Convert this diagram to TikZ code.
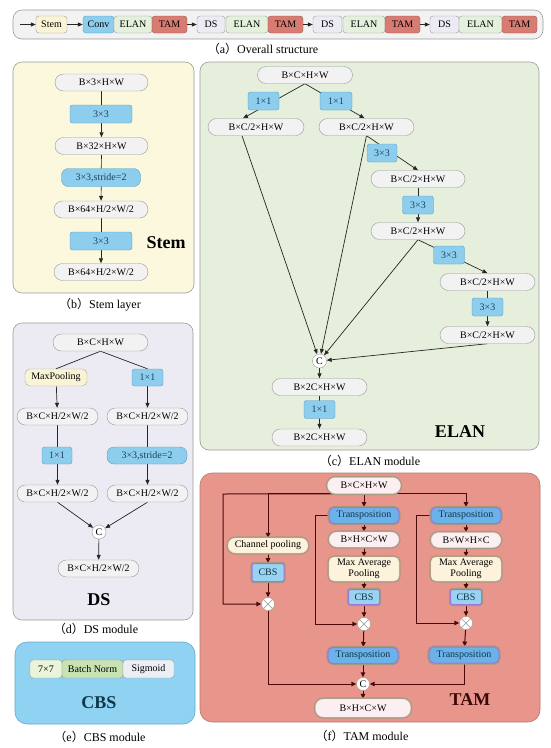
\documentclass[tikz,border=0pt]{standalone}
\usepackage{fontspec}
\setmainfont{Liberation Serif}
\newfontfamily\cjk{Noto Sans CJK SC}
\usetikzlibrary{arrows.meta,calc}
\pgfdeclarelayer{bg}
\pgfdeclarelayer{edges}
\pgfsetlayers{bg,edges,main}
\definecolor{boxgray}{HTML}{F2F2F2}
\definecolor{bordgray}{HTML}{9A9A9A}
\definecolor{convblue}{HTML}{8DCEEE}
\definecolor{convbord}{HTML}{5A9EBE}
\definecolor{convtext}{HTML}{1F3F5A}
\definecolor{yel}{HTML}{FAF4D6}
\definecolor{elangreen}{HTML}{E5F0DC}
\definecolor{tamred}{HTML}{D87B72}
\definecolor{dslav}{HTML}{ECEBF3}
\definecolor{stempanel}{HTML}{FCF8DD}
\definecolor{elanpanel}{HTML}{E6EFDC}
\definecolor{dspanel}{HTML}{ECEBF3}
\definecolor{cbspanel}{HTML}{8FD2F2}
\definecolor{cbsbord}{HTML}{6AAACC}
\definecolor{tampanel}{HTML}{E8958C}
\definecolor{tambord}{HTML}{B07A70}
\definecolor{thalo}{HTML}{A89A80}
\definecolor{tblue}{HTML}{6CB2EA}
\definecolor{tlblue}{HTML}{9AD2F2}
\definecolor{tpurple}{HTML}{9A78D6}
\definecolor{ttext}{HTML}{0E3848}
\definecolor{tline}{HTML}{4A0A0A}
\definecolor{tpink}{HTML}{FBEFF1}
\definecolor{tcream}{HTML}{FDF3DC}
\definecolor{bngreen}{HTML}{C9E2B4}
\definecolor{sevgreen}{HTML}{EAF4DA}
\definecolor{sigm}{HTML}{EBEFF3}
\begin{document}
\begin{tikzpicture}[x=1pt,y=-1pt,
  base/.style={draw, inner sep=0pt, align=center, font=\fontsize{10}{11}\selectfont},
  gbox/.style={base, fill=boxgray, draw=bordgray, rounded corners=8.5pt, minimum height=17pt},
  conv/.style={base, fill=convblue, draw=convbord, rounded corners=2.5pt, minimum height=18pt, text=convtext},
  convpill/.style={conv, rounded corners=7pt},
  barbox/.style={base, draw=bordgray, rounded corners=3pt, minimum height=17pt},
  panel/.style={draw=bordgray, line width=0.6pt, rounded corners=9pt},
  arr/.style={-{Triangle[length=5pt,width=4pt]}, line width=0.7pt, draw=black!85},
  pl/.style={line width=0.7pt, draw=black!85},
  ccirc/.style={circle, draw=bordgray, fill=white, inner sep=0pt, minimum size=14pt, font=\fontsize{10}{11}\selectfont},
  title/.style={font=\bfseries\fontsize{18}{20}\selectfont},
  capt/.style={font=\fontsize{12}{14}\selectfont},
  halo/.style={preaction={draw=thalo, line width=3.2pt}},
  tpill/.style={base, halo, fill=tpink, draw=tpink!80!gray, rounded corners=8pt, minimum height=16pt},
  tpose/.style={base, halo, fill=tblue, draw=tpurple, line width=1pt, rounded corners=5pt, minimum width=70pt, minimum height=16pt, text=ttext},
  tcbs/.style={base, halo, fill=tlblue, draw=tpurple, line width=1pt, rounded corners=2pt, text=ttext},
  tcr/.style={base, halo, fill=tcream, draw=tcream!80!gray, rounded corners=5pt},
  tmul/.style={circle, draw=thalo, fill=white, inner sep=0pt, minimum size=13pt,
    path picture={\draw[black!35, line width=0.7pt] (path picture bounding box.north west) -- (path picture bounding box.south east) (path picture bounding box.north east) -- (path picture bounding box.south west);}},
  tcc/.style={circle, draw=thalo, fill=white, inner sep=0pt, minimum size=13pt, font=\fontsize{10}{11}\selectfont},
  tarr/.style={-{Triangle[length=5pt,width=4.5pt]}, line width=1pt, draw=tline}
]
\useasboundingbox (0,0) rectangle (550,748);

% ---------- panels ----------
\begin{pgfonlayer}{bg}
\draw[panel, fill=boxgray] (13,10) rectangle (543,39);
\draw[panel, fill=stempanel] (13,62) rectangle (194,293);
\draw[panel, fill=elanpanel] (200,62) rectangle (539,450);
\draw[panel, fill=dspanel] (13,323) rectangle (193,620);
\draw[panel, fill=cbspanel, draw=cbsbord, rounded corners=12pt] (15,642) rectangle (195,724);
\draw[panel, fill=tampanel, draw=tambord, rounded corners=12pt] (200,473) rectangle (540,722);
\end{pgfonlayer}

% ---------- (a) overall ----------
\coordinate (a0) at (20,24.5);
\node[barbox, fill=yel, minimum width=31pt] (bstem) at (51.5,24.5) {Stem};
\node[barbox, fill=convblue, draw=convbord, minimum width=31pt] (bconv) at (98.5,24.5) {Conv};
\node[barbox, fill=elangreen, minimum width=38pt] (be1) at (133,24.5) {ELAN};
\node[barbox, fill=tamred, draw=tamred!70!black, minimum width=35pt] (bt1) at (169.5,24.5) {TAM};
\node[barbox, fill=dslav, minimum width=28pt] (bd2) at (211,24.5) {DS};
\node[barbox, fill=elangreen, minimum width=42pt] (be2) at (247,24.5) {ELAN};
\node[barbox, fill=tamred, draw=tamred!70!black, minimum width=35pt] (bt2) at (285.5,24.5) {TAM};
\node[barbox, fill=dslav, minimum width=29pt] (bd3) at (327.5,24.5) {DS};
\node[barbox, fill=elangreen, minimum width=42pt] (be3) at (364,24.5) {ELAN};
\node[barbox, fill=tamred, draw=tamred!70!black, minimum width=35pt] (bt3) at (402.5,24.5) {TAM};
\node[barbox, fill=dslav, minimum width=29pt] (bd4) at (444.5,24.5) {DS};
\node[barbox, fill=elangreen, minimum width=43pt] (be4) at (480.5,24.5) {ELAN};
\node[barbox, fill=tamred, draw=tamred!70!black, minimum width=35pt] (bt4) at (519.5,24.5) {TAM};
\draw[arr] (a0) -- (bstem.west);
\draw[arr] (bstem.east) -- (bconv.west);
\draw[arr] (bt1.east) -- (bd2.west);
\draw[arr] (bt2.east) -- (bd3.west);
\draw[arr] (bt3.east) -- (bd4.west);
\node[capt] (capa) at (263,49) {{\cjk （}a{\cjk ）}Overall structure};

% ---------- (b) stem ----------
\node[gbox, minimum width=93pt] (s1) at (101.5,82.5) {B×3×H×W};
\node[conv, minimum width=62pt] (s2) at (101,114) {3×3};
\node[gbox, minimum width=93pt] (s3) at (101.5,146) {B×32×H×W};
\node[convpill, minimum width=79pt] (s4) at (101,177.5) {3×3,stride=2};
\node[gbox, minimum width=94pt] (s5) at (101,209.5) {B×64×H/2×W/2};
\node[conv, minimum width=62pt] (s6) at (101,241) {3×3};
\node[gbox, minimum width=94pt] (s7) at (101,272) {B×64×H/2×W/2};
\node[title] (stemt) at (166,243) {Stem};
\node[capt] (capb) at (100,305) {{\cjk （}b{\cjk ）}Stem layer};

% ---------- (c) ELAN ----------
\node[gbox, minimum width=95pt] (e0) at (305,75) {B×C×H×W};
\node[conv, minimum width=31pt] (e11) at (263.5,101) {1×1};
\node[conv, minimum width=32pt] (e12) at (336,101) {1×1};
\node[gbox, minimum width=96pt] (eL) at (256,127) {B×C/2×H×W};
\node[gbox, minimum width=95pt] (eR) at (366.5,127) {B×C/2×H×W};
\node[conv, minimum width=30pt] (c1) at (382,153) {3×3};
\node[gbox, minimum width=94pt] (e3) at (418,179) {B×C/2×H×W};
\node[conv, minimum width=31pt] (c2) at (418,205) {3×3};
\node[gbox, minimum width=94pt] (e4) at (418,231) {B×C/2×H×W};
\node[conv, minimum width=31pt] (c3) at (449,255) {3×3};
\node[gbox, minimum width=95pt] (e5) at (487.5,282) {B×C/2×H×W};
\node[conv, minimum width=31pt] (c4) at (487.5,307) {3×3};
\node[gbox, minimum width=95pt] (e6) at (487.5,335) {B×C/2×H×W};
\node[ccirc] (ec) at (319.5,361) {C};
\node[gbox, minimum width=95pt] (e7) at (319.5,387) {B×2C×H×W};
\node[conv, minimum width=31pt] (c5) at (319.5,409.5) {1×1};
\node[gbox, minimum width=95pt] (e8) at (319.5,437.5) {B×2C×H×W};
\node[title] (elant) at (460,432) {ELAN};
\node[capt] (capc) at (370,461) {{\cjk （}c{\cjk ）}ELAN module};

% ---------- (d) DS ----------
\node[gbox, minimum width=95pt] (d0) at (100.5,342.5) {B×C×H×W};
\node[base, fill=yel, draw=bordgray!80!yellow, rounded corners=5pt, minimum width=62pt, minimum height=17pt] (dmp) at (56,377.5) {MaxPooling};
\node[conv, minimum width=31pt, minimum height=17pt] (d11) at (147.5,377.5) {1×1};
\node[gbox, minimum width=81pt] (dL1) at (57.5,416.5) {B×C×H/2×W/2};
\node[gbox, minimum width=81pt] (dR1) at (147.5,416.5) {B×C×H/2×W/2};
\node[conv, minimum width=30pt, minimum height=17pt] (dc1) at (57,455.5) {1×1};
\node[convpill, minimum width=80pt, minimum height=17pt] (dc2) at (147,455.5) {3×3,stride=2};
\node[gbox, minimum width=81pt] (dL2) at (57.5,493.5) {B×C×H/2×W/2};
\node[gbox, minimum width=81pt] (dR2) at (147.5,493.5) {B×C×H/2×W/2};
\node[ccirc] (dc) at (99,532) {C};
\node[gbox, minimum width=81pt] (dout) at (98.5,568.5) {B×C×H/2×W/2};
\node[title] (dst) at (99,600) {DS};
\node[capt] (capd) at (96,629) {{\cjk （}d{\cjk ）}DS module};

% ---------- (e) CBS ----------
\node[barbox, fill=sevgreen, minimum width=32pt, minimum height=18pt] (k7) at (46,669) {7×7};
\node[barbox, fill=bngreen, minimum width=61pt, minimum height=18pt] (kbn) at (92.5,669) {Batch Norm};
\node[barbox, fill=sigm, minimum width=51pt, minimum height=18pt] (ksig) at (148.5,669) {Sigmoid};
\node[title, text=ttext] (cbst) at (99,703) {CBS};
\node[capt] (cape) at (100,737) {{\cjk （}e{\cjk ）}CBS module};

% ---------- (f) TAM ----------
\node[tpill, minimum width=73pt] (tin) at (364,485.5) {B×C×H×W};
\node[tpose] (tp1) at (364,515.5) {Transposition};
\node[tpill, minimum width=70pt, minimum height=15pt] (bh1) at (364,539.5) {B×H×C×W};
\node[tcr, minimum width=70pt, minimum height=24pt, font=\fontsize{10}{10.5}\selectfont] (mp1) at (364,569) {Max Average\\Pooling};
\node[tcbs, minimum width=31pt, minimum height=15pt] (cb1) at (364,597) {CBS};
\node[tmul] (m1) at (364,624) {};
\node[tpose] (tq1) at (363,655.5) {Transposition};
\node[tcc] (tc) at (363,684) {C};
\node[tpill, minimum width=95pt, minimum height=18pt] (tout) at (363,708) {B×H×C×W};

\node[tpose] (tp2) at (466,515.5) {Transposition};
\node[tpill, minimum width=70pt, minimum height=15pt] (bh2) at (466,540) {B×W×H×C};
\node[tcr, minimum width=70pt, minimum height=24pt, font=\fontsize{10}{10.5}\selectfont] (mp2) at (466,569) {Max Average\\Pooling};
\node[tcbs, minimum width=31pt, minimum height=15pt] (cb2) at (466,597) {CBS};
\node[tmul] (m2) at (466,623) {};
\node[tpose] (tq2) at (464,655) {Transposition};

\node[tcr, rounded corners=7.5pt, minimum width=80pt, minimum height=15pt] (cp) at (268,545.5) {Channel pooling};
\node[tcbs, minimum width=32pt, minimum height=18pt] (cb0) at (268,572.5) {CBS};
\node[tmul] (m0) at (268,604) {};
\coordinate (jl) at (223,494);
\coordinate (k1) at (315,515.5);
\coordinate (k2) at (416,515.5);
\node[title, text=tline!80!black] (tamt) at (470,700) {TAM};
\node[capt] (capf) at (362,736) {{\cjk （}f{\cjk ）}TAM module};

% ---------- edges ----------
\begin{pgfonlayer}{edges}
% stem
\draw[arr] (s1) -- (s3);
\draw[arr] (s3) -- (s5);
\draw[arr] (s5) -- (s7);
% elan
\draw[arr] (e0.south) -- ([xshift=-13pt]eL.north);
\draw[arr] (e0.south) -- ([xshift=-2pt]eR.north);
\draw[arr] ([xshift=-14pt]eL.south) -- (ec);
\draw[arr] (eR.south) -- (ec);
\draw[arr] (eR.south) -- (e3.north);
\draw[arr] (e3) -- (e4);
\draw[arr] (e4.south) -- (e5.north);
\draw[arr] (e4.south) -- (ec);
\draw[arr] (e5) -- (e6);
\draw[arr] (e6.south) -- (ec);
\draw[arr] (ec) -- (e7);
\draw[arr] (e7) -- (e8);
% ds
\draw[pl] (d0.south) -- (dmp.north);
\draw[pl] (d0.south) -- (d11.north);
\draw[arr] (dmp) -- (dL1);
\draw[arr] (d11) -- (dR1);
\draw[arr] (dL1) -- (dL2);
\draw[arr] (dR1) -- (dR2);
\draw[arr] (dL2.south) -- (dc);
\draw[arr] (dR2.south) -- (dc);
\draw[arr] (dc) -- (dout);
% tam
\draw[tarr] (tin) -- (tp1);
\draw[tarr] (tin.south) -| (tp2.north);
\draw[tarr] (tin.south) -| (cp.north);
\draw[tarr] (tin.south) -- (jl) |- (m0.west);
\draw[tarr] (cp) -- (cb0);
\draw[tarr] (cb0) -- (m0);
\draw[tarr] (m0.south) |- (tc.west);
\draw[tarr] (tp1.west) -- (k1) |- (m1.west);
\draw[tarr] (tp1) -- (bh1);
\draw[tarr] (bh1) -- (mp1);
\draw[tarr] (mp1) -- (cb1);
\draw[tarr] (cb1) -- (m1);
\draw[tarr] (m1) -- (tq1);
\draw[tarr] (tq1) -- (tc);
\draw[tarr] (tc) -- (tout);
\draw[tarr] (tp2.west) -- (k2) |- (m2.west);
\draw[tarr] (tp2) -- (bh2);
\draw[tarr] (bh2) -- (mp2);
\draw[tarr] (mp2) -- (cb2);
\draw[tarr] (cb2) -- (m2);
\draw[tarr] (m2) -- (tq2);
\draw[tarr] (tq2.south) |- (tc.east);
\end{pgfonlayer}
\end{tikzpicture}
\end{document}
